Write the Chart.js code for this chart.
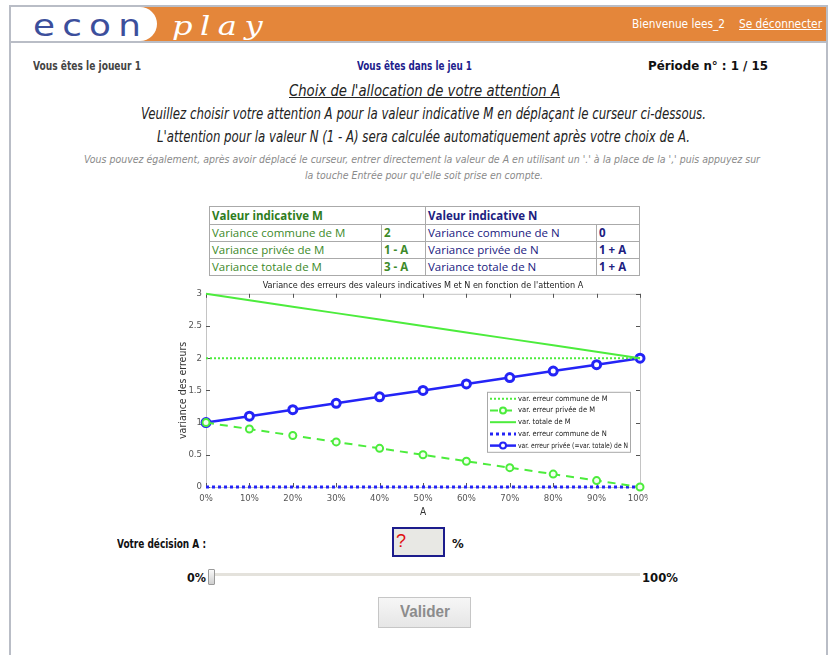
<!DOCTYPE html>
<html>
<head>
<meta charset="utf-8">
<script src="https://cdn.jsdelivr.net/npm/chart.js@4.4.0/dist/chart.umd.min.js"></script>
<style>
  body { margin:0; width:828px; height:655px; position:relative; overflow:hidden; background:#fff;
         font-family:"Liberation Sans Narrow","DejaVu Sans Condensed","Liberation Sans",sans-serif; }
  .t { position:absolute; white-space:nowrap; height:20px; line-height:20px; transform-origin:left center; }
  .frame { position:absolute; left:9px; top:5px; width:815px; height:700px; border:2px solid #b9bdc6; }
  .head { position:absolute; left:11px; top:7px; width:815px; height:34px; background:#e4863a; border-bottom:2px solid #b9bdc6; }
  .logo { position:absolute; left:11px; top:7px; width:146px; height:34px; background:#fff; border-radius:0 22px 22px 0; }
  table.var { position:absolute; left:209px; top:206px; border-collapse:collapse; border:1px solid #888;
              font-family:"Open Sans",sans-serif; font-size:11.5px; }
  table.var td { border:1px solid #aaa; padding:0 2px; height:16px; line-height:16px; }
  .m { color:#3d8a2a; } .n { color:#202080; }
  .b { font-weight:bold; }
  #wrap { position:absolute; left:160px; top:277px; width:488px; height:245px; }
</style>
</head>
<body>
<div class="frame"></div>
<div class="head"></div>
<div class="logo"></div>
<span class="t" id="logo1" style="left:33px;top:14px;height:24px;line-height:24px;font-family:'DejaVu Sans';font-size:30px;color:#3c4f9c;letter-spacing:6px;">econ</span>
<span class="t" id="logo2" style="left:172px;top:13px;height:26px;line-height:26px;font-family:'DejaVu Serif';font-style:italic;font-size:26px;color:#fff;letter-spacing:6px;">play</span>
<span class="t" id="h1" style="left:632px;top:14px;color:#fff;font-size:13px;">Bienvenue lees_2</span>
<span class="t" id="h2" style="left:739px;top:14px;color:#fff;font-size:13px;text-decoration:underline;">Se déconnecter</span>

<span class="t b" id="i1" style="left:33px;top:56px;color:#444;font-size:12px;">Vous êtes le joueur 1</span>
<span class="t b" id="i2" style="left:357px;top:56px;color:#1d1d8c;font-size:12px;">Vous êtes dans le jeu 1</span>
<span class="t b" id="i3" style="left:648px;top:56px;color:#111;font-size:12px;">Période n° : 1 / 15</span>

<span class="t" id="p1" style="left:289px;top:81px;color:#222;font-size:16px;font-style:italic;text-decoration:underline;">Choix de l'allocation de votre attention A</span>
<span class="t" id="p2" style="left:141px;top:104px;color:#222;font-size:15px;font-style:italic;">Veuillez choisir votre attention A pour la valeur indicative M en déplaçant le curseur ci-dessous.</span>
<span class="t" id="p3" style="left:157px;top:127px;color:#222;font-size:15px;font-style:italic;">L'attention pour la valeur N (1 - A) sera calculée automatiquement après votre choix de A.</span>
<span class="t" id="p4" style="left:84px;top:150px;color:#8a8a8a;font-size:11px;font-style:italic;">Vous pouvez également, après avoir déplacé le curseur, entrer directement la valeur de A en utilisant un '.' à la place de la ',' puis appuyez sur</span>
<span class="t" id="p5" style="left:305px;top:166px;color:#8a8a8a;font-size:11px;font-style:italic;">la touche Entrée pour qu'elle soit prise en compte.</span>

<table class="var">
  <tr style="height:18px"><td colspan="2" class="m b" style="color:#2e7d1c">Valeur indicative M</td><td colspan="2" class="n b">Valeur indicative N</td></tr>
  <tr><td class="m" style="width:167px">Variance commune de M</td><td class="m b" style="width:39px">2</td><td class="n" style="width:166px">Variance commune de N</td><td class="n b" style="width:38px">0</td></tr>
  <tr><td class="m">Variance privée de M</td><td class="m b">1 - A</td><td class="n">Variance privée de N</td><td class="n b">1 + A</td></tr>
  <tr><td class="m">Variance totale de M</td><td class="m b">3 - A</td><td class="n">Variance totale de N</td><td class="n b">1 + A</td></tr>
</table>

<div id="wrap"><canvas id="varChart"></canvas></div>

<span class="t b" id="d1" style="left:117px;top:534px;color:#111;font-size:12px;">Votre décision A :</span>
<div style="position:absolute;left:392px;top:527px;width:49px;height:26px;border:2px solid #1c1c8c;background:#e8e8e4;">
  <span style="position:absolute;left:2px;top:2px;color:#e01010;font-size:18px;font-family:'Liberation Sans',sans-serif;">?</span>
</div>
<span class="t b" id="d2" style="left:452px;top:534px;color:#111;font-size:13px;">%</span>
<span class="t b" id="s1" style="left:187px;top:568px;color:#111;font-size:13px;">0%</span>
<div style="position:absolute;left:208px;top:573px;width:432px;height:3px;background:#e4e2dc;"></div>
<div style="position:absolute;left:208px;top:569px;width:5px;height:14px;border:1px solid #9a9a9a;border-radius:1px;background:linear-gradient(#fafafa,#cfcfcf);"></div>
<span class="t b" id="s2" style="left:642px;top:568px;color:#111;font-size:13px;">100%</span>
<div style="position:absolute;left:378px;top:597px;width:91px;height:29px;border:1px solid #c6c6c6;background:linear-gradient(#f6f6f6,#e6e6e6);"></div>
<span class="t b" id="v1" style="left:400px;top:602px;color:#8c8c8c;font-size:16px;font-family:'Liberation Sans',sans-serif;">Valider</span>

<script>
// largeurs mesurées sur la capture
function fitW(id, w) {
    const el = document.getElementById(id);
    const r = w / el.getBoundingClientRect().width;
    el.style.transform = 'scaleX(' + r + ')';
}
fitW('logo1', 115); fitW('logo2', 98);
fitW('h1', 93); fitW('h2', 83);
fitW('i1', 108); fitW('i2', 115); fitW('i3', 120);
fitW('p1', 271); fitW('p2', 565); fitW('p3', 533); fitW('p4', 676); fitW('p5', 238);
fitW('d1', 89); fitW('s1', 19); fitW('s2', 36); fitW('v1', 50);

// données du graphique
const xLabels = ['0%', '10%', '20%', '30%', '40%', '50%', '60%', '70%', '80%', '90%', '100%'];
const communeM = [2, 2, 2, 2, 2, 2, 2, 2, 2, 2, 2];
const priveeM = [1, 0.9, 0.8, 0.7, 0.6, 0.5, 0.4, 0.3, 0.2, 0.1, 0];
const totaleM = [3, 2.9, 2.8, 2.7, 2.6, 2.5, 2.4, 2.3, 2.2, 2.1, 2];
const communeN = [0, 0, 0, 0, 0, 0, 0, 0, 0, 0, 0];
const priveeN = [1, 1.1, 1.2, 1.3, 1.4, 1.5, 1.6, 1.7, 1.8, 1.9, 2];
const yTicks = [0, 0.5, 1, 1.5, 2, 2.5, 3];
const yLabels = ['0', '0.5', '1', '1.5', '2', '2.5', '3'];

const vert = 'rgb(76,236,60)';
const bleu = 'rgb(36,36,246)';
const police = '"Liberation Sans Narrow","DejaVu Sans Condensed",sans-serif';

// cadre + graduations vers l'intérieur (style matlab)
const cadre = {
    id: 'cadre',
    beforeDatasetsDraw(chart) {
        const { ctx, chartArea: a, scales: { x, y } } = chart;
        ctx.save();
        ctx.strokeStyle = '#c4c4c4';
        ctx.lineWidth = 1;
        ctx.strokeRect(a.left + 0.5, a.top + 0.5, a.right - a.left, a.bottom - a.top);
        ctx.strokeStyle = '#555';
        ctx.beginPath();
        x.ticks.forEach((t, i) => {
            const px = Math.round(x.getPixelForTick(i)) + 0.5;
            ctx.moveTo(px, a.bottom); ctx.lineTo(px, a.bottom - 4);
            ctx.moveTo(px, a.top); ctx.lineTo(px, a.top + 4);
        });
        y.ticks.forEach((t, i) => {
            const py = Math.round(y.getPixelForTick(i)) + 0.5;
            ctx.moveTo(a.left, py); ctx.lineTo(a.left + 4, py);
            ctx.moveTo(a.right, py); ctx.lineTo(a.right - 4, py);
        });
        ctx.stroke();
        ctx.restore();
    }
};

// légende dans la zone du graphe
const legende = {
    id: 'legende',
    afterDatasetsDraw(chart) {
        const { ctx, chartArea: a } = chart;
        const bx = a.left + 281, by = a.top + 98, bw = 143, bh = 60;
        ctx.save();
        ctx.fillStyle = '#fff';
        ctx.fillRect(bx, by, bw, bh);
        ctx.strokeStyle = '#a8a8a8';
        ctx.lineWidth = 1;
        ctx.strokeRect(bx + 0.5, by + 0.5, bw, bh);
        chart.data.datasets.forEach((ds, i) => {
            const cy = by + 7 + i * 11.7;
            ctx.strokeStyle = ds.borderColor;
            ctx.lineWidth = ds.borderWidth;
            ctx.setLineDash(ds.borderDash || []);
            ctx.beginPath();
            ctx.moveTo(bx + 3, cy); ctx.lineTo(bx + 29, cy);
            ctx.stroke();
            ctx.setLineDash([]);
            if (ds.pointRadius > 0) {
                ctx.beginPath();
                ctx.arc(bx + 16, cy, 3, 0, Math.PI * 2);
                ctx.fillStyle = ds.pointBackgroundColor;
                ctx.fill();
                ctx.lineWidth = 2;
                ctx.stroke();
            }
            ctx.fillStyle = '#222';
            ctx.font = '7.5px ' + police;
            ctx.textBaseline = 'middle';
            ctx.fillText(ds.label, bx + 31, cy, 110);
        });
        ctx.restore();
    }
};

const ctx = document.getElementById('varChart').getContext('2d');
const varChart = new Chart(ctx, {
    type: 'line',
    data: {
        labels: xLabels,
        datasets: [{
            label: 'var. erreur commune de M',
            data: communeM,
            borderColor: vert, borderWidth: 2, borderDash: [2, 2],
            pointRadius: 0
        }, {
            label: 'var. erreur privée de M',
            data: priveeM,
            borderColor: vert, borderWidth: 2, borderDash: [8, 6],
            pointRadius: 3.5, pointBorderWidth: 2, pointBackgroundColor: '#f4fff0', pointBorderColor: vert
        }, {
            label: 'var. totale de M',
            data: totaleM,
            borderColor: vert, borderWidth: 2,
            pointRadius: 0
        }, {
            label: 'var. erreur commune de N',
            data: communeN,
            borderColor: bleu, borderWidth: 3, borderDash: [3, 3],
            pointRadius: 0
        }, {
            label: 'var. erreur privée (=var. totale) de N',
            data: priveeN,
            borderColor: bleu, borderWidth: 2.5,
            pointRadius: 4, pointBorderWidth: 3, pointBackgroundColor: '#fff', pointBorderColor: bleu
        }]
    },
    options: {
        responsive: true,
        maintainAspectRatio: false,
        animation: false,
        clip: false,
        layout: { padding: { right: 8, top: 0, bottom: 0, left: 0 } },
        plugins: {
            legend: { display: false },
            tooltip: { enabled: false },
            title: {
                display: true,
                fullSize: false,
                text: "Variance des erreurs des valeurs indicatives M et N en fonction de l'attention A",
                color: '#222',
                font: { family: police, size: 9, weight: 'normal' },
                padding: { top: 3, bottom: 3 }
            }
        },
        elements: { line: { tension: 0 } },
        scales: {
            x: {
                grid: { display: false, drawTicks: false },
                border: { display: false },
                ticks: { color: '#555', font: { family: police, size: 9.5 }, padding: 6, maxRotation: 0, autoSkip: false },
                title: { display: true, text: 'A', color: '#333', font: { family: police, size: 10 }, padding: { top: 0, bottom: 4 } },
                afterFit(scale) { scale.height = 35; scale.paddingLeft = 0; scale.paddingRight = 0; }
            },
            y: {
                min: 0, max: 3,
                grid: { display: false, drawTicks: false },
                border: { display: false },
                afterBuildTicks(scale) { scale.ticks = yTicks.map(v => ({ value: v })); },
                ticks: {
                    color: '#555', font: { family: police, size: 9.5 }, padding: 4,
                    callback: (v) => yLabels[yTicks.indexOf(v)]
                },
                title: { display: true, text: 'variance des erreurs', color: '#333', font: { family: police, size: 10.5 }, padding: { top: 17, bottom: 0 } },
                afterFit(scale) { scale.width = 46; scale.paddingTop = 0; scale.paddingBottom = 0; }
            }
        }
    },
    plugins: [cadre, legende]
});
</script>
</body>
</html>
